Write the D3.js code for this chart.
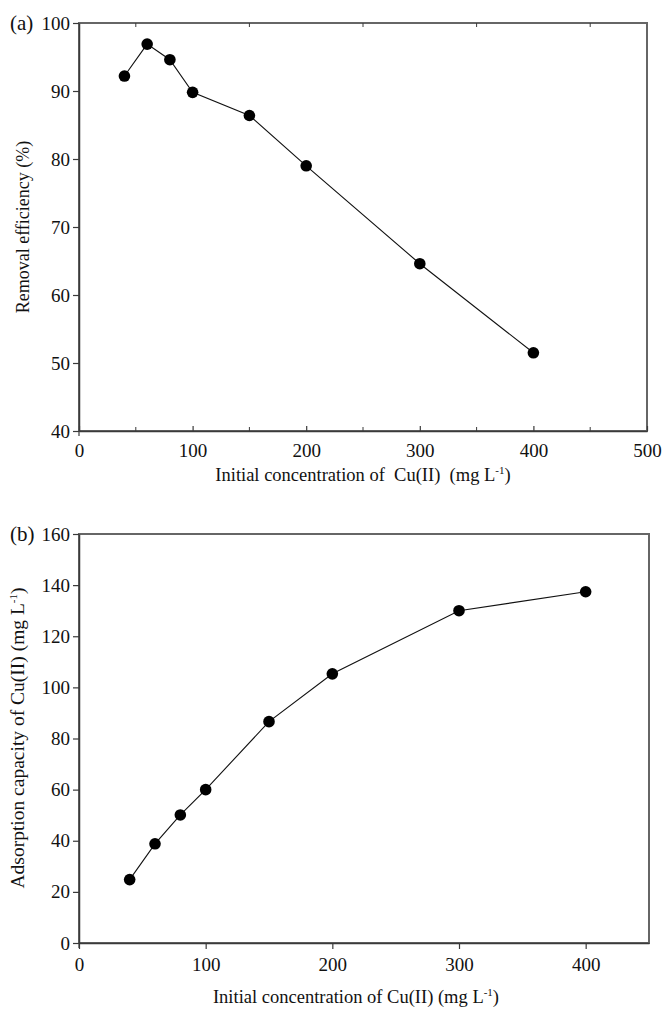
<!DOCTYPE html>
<html lang="en">
<head>
<meta charset="utf-8">
<title>Cu(II) removal</title>
<style>
    body { margin:0; background:#fff; }
    svg text { font-family:"Liberation Serif", "DejaVu Serif", serif; fill:#111; }
</style>
</head>
<body>
<svg id="chart" width="663" height="1009"></svg>
<script src="https://cdnjs.cloudflare.com/ajax/libs/d3/7.8.5/d3.min.js"></script>
<script>
// concentration (mg/L)
var conc = [40, 60, 80, 100, 150, 200, 300, 400];
// panel a: removal efficiency (%)
var removal = [92.2, 96.9, 94.6, 89.8, 86.4, 79.0, 64.6, 51.5];
// panel b: adsorption capacity (mg/L)
var capacity = [24.8, 38.8, 50.1, 60.0, 86.6, 105.3, 130.0, 137.4];

var xTicksA = [0, 100, 200, 300, 400, 500],
    yTicksA = [40, 50, 60, 70, 80, 90, 100],
    xTicksB = [0, 100, 200, 300, 400],
    yTicksB = [0, 20, 40, 60, 80, 100, 120, 140, 160];

var svg = d3.select('#chart');
var axisColor = '#3a3a3a';

function panel(opt) {
    var x = d3.scaleLinear().domain(opt.xDomain).range([79, opt.right]);
    var y = d3.scaleLinear().domain(opt.yDomain).range([opt.bottom, opt.top]);
    var g = svg.append('g');

    // frame
    g.append('rect')
        .attr('x', 79).attr('y', opt.top)
        .attr('width', opt.right - 79).attr('height', opt.bottom - opt.top)
        .attr('fill', 'none').attr('stroke', '#666').attr('stroke-width', 2);

    // bottom axis
    var xa = g.append('g')
        .attr('transform', 'translate(0,' + opt.bottom + ')')
        .call(d3.axisBottom(x).tickValues(opt.xTicks).tickSizeInner(opt.xTickIn ? -5 : 6).tickSizeOuter(0).tickPadding(opt.xTickIn ? 13 : 9));
    xa.select('.domain').attr('stroke', axisColor).attr('stroke-width', 1.5);
    xa.selectAll('.tick line').attr('stroke', axisColor).attr('stroke-width', 1.2);
    xa.selectAll('.tick text').style('font-size', '19px');

    // left axis
    var ya = g.append('g')
        .attr('transform', 'translate(79,0)')
        .call(d3.axisLeft(y).tickValues(opt.yTicks).tickSize(6).tickSizeOuter(0).tickPadding(3));
    ya.select('.domain').attr('stroke', axisColor).attr('stroke-width', 1.5);
    ya.selectAll('.tick line').attr('stroke', axisColor).attr('stroke-width', 1.2);
    ya.selectAll('.tick text').style('font-size', '19px');

    // minor ticks on top and bottom
    if (opt.minor) {
        g.selectAll('.minorTop').data(opt.minor).enter().append('line')
            .attr('x1', function(d){ return x(d); }).attr('x2', function(d){ return x(d); })
            .attr('y1', opt.top).attr('y2', opt.top + 4)
            .attr('stroke', axisColor);
        g.selectAll('.minorBot').data(opt.minor).enter().append('line')
            .attr('x1', function(d){ return x(d); }).attr('x2', function(d){ return x(d); })
            .attr('y1', opt.bottom).attr('y2', opt.bottom - 4)
            .attr('stroke', axisColor);
    }
    // small tail of the y axis below the x axis
    g.append('line').attr('x1', 79).attr('x2', 79)
        .attr('y1', opt.bottom).attr('y2', opt.bottom + 5)
        .attr('stroke', axisColor).attr('stroke-width', 1.2);

    // data line and markers
    var pts = conc.map(function(c, i){ return [c, opt.values[i]]; });
    g.append('path')
        .datum(pts)
        .attr('fill', 'none').attr('stroke', '#111').attr('stroke-width', 1.1)
        .attr('d', d3.line().x(function(d){ return x(d[0]); }).y(function(d){ return y(d[1]); }));
    g.selectAll('.dot').data(pts).enter().append('circle')
        .attr('cx', function(d){ return x(d[0]); })
        .attr('cy', function(d){ return y(d[1]); })
        .attr('r', 5.8).attr('fill', '#000');

    // panel tag
    g.append('text').style('font-size', '21px')
        .attr('x', 10).attr('y', opt.top + 7).text(opt.tag);

    // x title
    var xt = g.append('text').style('font-size', '18.5px')
        .attr('x', opt.xTitleX).attr('y', opt.xTitleY).attr('text-anchor', 'middle');
    xt.append('tspan').text(opt.xTitle);
    xt.append('tspan').attr('dy', -7).style('font-size', '11px').text('-1');
    xt.append('tspan').attr('dy', 7).text(')');

    // y title
    var yt = g.append('text').style('font-size', opt.yTitleSize)
        .attr('transform', 'translate(' + opt.yTitleX + ',' + opt.yTitleY + ') rotate(-90)')
        .attr('text-anchor', 'middle');
    yt.append('tspan').text(opt.yTitle);
    if (opt.ySup) {
        yt.append('tspan').attr('dy', -7).style('font-size', '11px').text('-1');
        yt.append('tspan').attr('dy', 7).text(')');
    }
}

panel({
    tag: '(a)', top: 23, bottom: 431, right: 647,
    xDomain: [0, 500], yDomain: [40, 100],
    xTicks: xTicksA, yTicks: yTicksA, xTickIn: true,
    minor: [50, 150, 250, 350, 450],
    values: removal,
    xTitle: 'Initial concentration of \u00a0Cu(II) \u00a0(mg L', xTitleX: 363, xTitleY: 481,
    yTitle: 'Removal efficiency (%)', yTitleX: 29, yTitleY: 227, yTitleSize: '18px', ySup: false
});

panel({
    tag: '(b)', top: 534, bottom: 943, right: 649,
    xDomain: [0, 450], yDomain: [0, 160],
    xTicks: xTicksB, yTicks: yTicksB, xTickIn: false,
    values: capacity,
    xTitle: 'Initial concentration of Cu(II) (mg L', xTitleX: 356, xTitleY: 1003,
    yTitle: 'Adsorption capacity of Cu(II) (mg L', yTitleX: 24, yTitleY: 738, yTitleSize: '19.5px', ySup: true
});
</script>
</body>
</html>
